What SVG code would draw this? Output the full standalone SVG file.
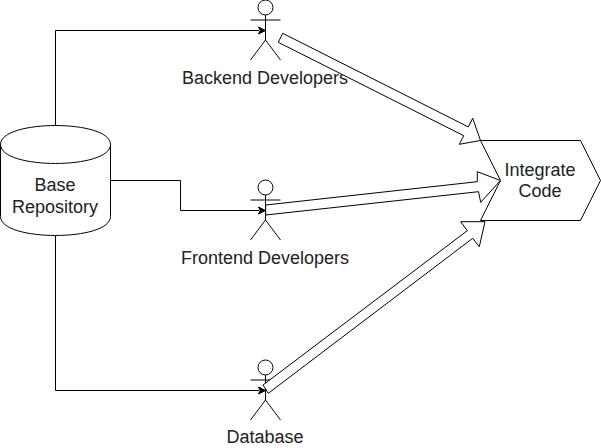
<svg xmlns="http://www.w3.org/2000/svg" width="601" height="448" viewBox="0 0 601 448">
<style>
.s{fill:#fff;stroke:#000;stroke-width:1}
.a{fill:none;stroke:#000;stroke-width:1}
.c{fill:none;stroke:#000;stroke-width:1}
.h{fill:#000;stroke:#000;stroke-width:1}
text{font-family:"Liberation Sans",Arial,Helvetica,sans-serif;font-size:18px;text-anchor:middle;fill:#222}
</style>
<defs>
<g id="actor"><circle class="s" cx="265.5" cy="7.500" r="7.500"/><path class="a" d="M265.500 15V40M250.500 20H280.500M250.500 60L265.500 40L280.500 60"/></g>
</defs>
<g id="repo"><path class="s" d="M0.500 144.500C0.500 119.200 110.500 119.200 110.500 144.500V216.500C110.500 241.800 0.500 241.800 0.500 216.500Z"/><path class="a" d="M0.500 144.500C0.500 169.800 110.500 169.800 110.500 144.500"/><text x="55" y="191">Base</text><text x="55" y="213">Repository</text></g>
<g id="backend"><use href="#actor"/><text x="265" y="84">Backend Developers</text></g>
<g id="frontend"><use href="#actor" y="180"/><text x="265" y="264">Frontend Developers</text></g>
<g id="database"><use href="#actor" y="360"/><text x="265" y="443">Database</text></g>
<g id="integrate"><path class="s" d="M480.500 140.500H580.500L600.500 180.500L580.500 220.500H480.500L500.500 180.500Z"/><text x="540" y="176">Integrate</text><text x="540" y="197">Code</text></g>
<g id="connectors">
<path class="c" d="M55.500 125.500V30.500H259"/><path class="h" d="M265.500 30.500L258.500 34L260.250 30.500L258.500 27Z"/>
<path class="c" d="M110.500 180.500H180.500V210.500H259"/><path class="h" d="M265.500 210.500L258.500 214L260.250 210.500L258.500 207Z"/>
<path class="c" d="M55.500 235.500V390.500H259"/><path class="h" d="M265.500 390.500L258.500 394L260.250 390.500L258.500 387Z"/>
<path class="s" d="M282.700 33.300L468.300 126.900L472.700 118.300L480.500 140.500L459.300 144.300L463.700 135.700L278.300 42.300Z"/>
<path class="s" d="M265.700 205L477.300 181.700L477.300 171.700L500.500 180.500L480.700 202.300L478.500 191.700L265.700 215Z"/>
<path class="s" d="M263 385L467.300 230.700L460.700 221.700L485 221.700L479.300 246.700L472.700 238.300L268.300 393.300Z"/>
</g>
</svg>
